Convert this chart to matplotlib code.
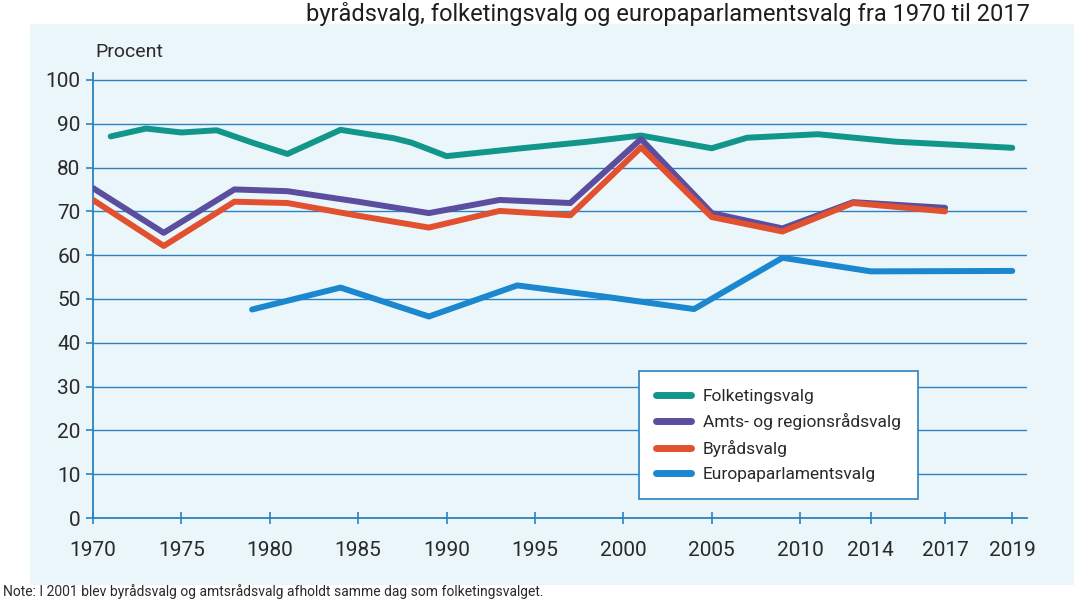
import numpy as np
import matplotlib
matplotlib.use("Agg")
import matplotlib.pyplot as plt
from matplotlib.patches import Rectangle

plt.rcParams['font.family'] = ['Roboto', 'DejaVu Sans']

# valgdeltagelse i procent
folk_years = [1971, 1973, 1975, 1977, 1979, 1981, 1984, 1987, 1988, 1990,
              1994, 1998, 2001, 2005, 2007, 2011, 2015, 2019]
folk = [87.1, 88.9, 88.0, 88.5, 85.7, 83.1, 88.6, 86.7, 85.7, 82.6,
        84.3, 85.9, 87.3, 84.4, 86.8, 87.6, 85.9, 84.5]

amt_years = [1970, 1974, 1978, 1981, 1985, 1989, 1993, 1997, 2001, 2005, 2009, 2013, 2017]
amt = [75.3, 65.1, 75.0, 74.6, 72.2, 69.6, 72.6, 71.9, 86.5, 69.6, 66.1, 72.1, 70.8]
byr = [72.6, 62.1, 72.2, 71.9, 69.0, 66.3, 70.1, 69.1, 84.6, 68.7, 65.4, 71.9, 70.0]

ep_years = [1979, 1984, 1989, 1994, 1999, 2004, 2009, 2014, 2019]
ep = [47.6, 52.6, 46.0, 53.1, 50.5, 47.7, 59.4, 56.3, 56.4]

tick_years = [1970, 1975, 1980, 1985, 1990, 1995, 2000, 2005, 2010, 2014, 2017, 2019]
labels = ['Folketingsvalg', 'Amts- og regionsrådsvalg', 'Byrådsvalg', 'Europaparlamentsvalg']
colors = ['#13968a', '#5b4e9e', '#e2512f', '#1b87cf']

# x-aksen er ikke lineær efter 2014
kx = [1900, 1970, 2014, 2017, 2019, 2100]
kp = [-70, 0, 44, 48.2, 52.0, 52.0 + 81 * 1.9]


def fwd(x):
    return np.interp(x, kx, kp)


def inv(p):
    return np.interp(p, kp, kx)


blue = '#2b82c0'
txt = '#2a2a2a'

fig = plt.figure(figsize=(10.74, 6.01), dpi=100)
fig.patches.append(Rectangle((30 / 1074, 16 / 601), 1 - 30 / 1074, 1 - 40 / 601,
                             transform=fig.transFigure, facecolor='#ebf6fa',
                             edgecolor='none', zorder=-10))

ax = fig.add_axes([0.0866, 0.138, 0.870, 0.74])
ax.set_facecolor('none')
ax.set_xscale('function', functions=(fwd, inv))

series = [(folk_years, folk), (amt_years, amt), (amt_years, byr), (ep_years, ep)]
for (xs, ys), lab, c in zip(series, labels, colors):
    ax.plot(xs, ys, color=c, lw=4.3, label=lab, solid_capstyle='round',
            solid_joinstyle='round', zorder=3)

ax.set_xlim(1970, 2019.45)
ax.set_ylim(0, 101.5)
ax.set_yticks(range(0, 101, 10))
ax.set_xticks(tick_years)
ax.set_xticklabels([str(t) for t in tick_years])
ax.minorticks_off()

for y in range(10, 101, 10):
    ax.axhline(y, color=blue, lw=1.0, zorder=1)

for s in ['top', 'right']:
    ax.spines[s].set_visible(False)
for s in ['left', 'bottom']:
    ax.spines[s].set_color(blue)
    ax.spines[s].set_linewidth(1.3)

ax.tick_params(axis='y', direction='out', length=5, width=1.2, color=blue,
               labelsize=15, labelcolor=txt, pad=4)
ax.tick_params(axis='x', direction='inout', length=9, width=1.2, color=blue,
               labelsize=15, labelcolor=txt, pad=12)

leg = ax.legend(loc='upper left', bbox_to_anchor=(0.584, 0.33), fontsize=12.5,
                frameon=True, fancybox=False, edgecolor=blue, facecolor='white',
                framealpha=1, handlelength=2.0, handletextpad=0.7,
                labelspacing=0.55, borderpad=1.0, borderaxespad=0)
leg.get_frame().set_linewidth(1.2)
for h in leg.get_lines():
    h.set_linewidth(5)
    h.set_solid_capstyle('round')
for t in leg.get_texts():
    t.set_color(txt)

fig.text(95 / 1074, 1 - 52 / 601, 'Procent', fontsize=14, color=txt, va='center')
fig.text(1030 / 1074, 1 - 14 / 601,
         'byrådsvalg, folketingsvalg og europaparlamentsvalg fra 1970 til 2017',
         fontsize=17, color='#1e1e1e', ha='right', va='center')
fig.text(3 / 1074, 2 / 601,
         'Note: I 2001 blev byrådsvalg og amtsrådsvalg afholdt samme dag som folketingsvalget.',
         fontsize=10, color=txt, ha='left', va='bottom')

fig.savefig('out.png', dpi=100, facecolor='white')
